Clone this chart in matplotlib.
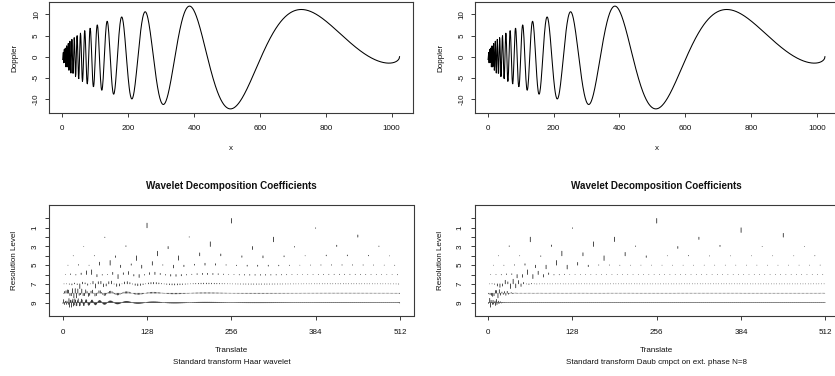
import numpy as np
import matplotlib
matplotlib.use("Agg")
import matplotlib.pyplot as plt
from matplotlib.collections import LineCollection
from math import comb

plt.rcParams['font.family'] = ['Liberation Sans', 'DejaVu Sans']

# ------------------------------------------------------------------ data
n_points = 1024            # length of the Doppler test signal
doppler_freq = 0.96        # oscillation constant (read from the peak positions)
doppler_eps = 0.05         # shift constant of the Doppler chirp
doppler_sd = 7.0           # signal scaled to this standard deviation
top_xticks = [0, 200, 400, 600, 800, 1000]
top_yticks = [-10, -5, 0, 5, 10]
bottom_xticks = [0, 128, 256, 384, 512]
level_heights = [1, 2, 3, 4, 5, 6, 7, 8, 9, 10]
level_labels = ['9', '', '7', '', '5', '', '3', '', '1', '']
panel_filter_numbers = [1, 8]
panel_subtitles = ["Standard transform Haar wavelet",
                   "Standard transform Daub cmpct on ext. phase N=8"]
top_ylabel = "Doppler"
top_xlabel = "x"
bottom_title = "Wavelet Decomposition Coefficients"
bottom_xlabel = "Translate"
bottom_ylabel = "Resolution Level"

# ------------------------------------------------------------------ signal
x_index = np.arange(1, n_points + 1)
tt = x_index / n_points
signal = np.sqrt(tt * (1 - tt)) * np.sin(2 * np.pi * doppler_freq / (tt + doppler_eps))
signal = signal / np.std(signal, ddof=1) * doppler_sd


def daub_ext_phase(N):
    if N == 1:
        return np.array([1.0, 1.0]) / np.sqrt(2)
    P = [comb(N - 1 + k, k) for k in range(N)]
    yroots = np.roots(P[::-1])
    zr = []
    for yr in yroots:
        r = np.roots([1, -(2 - 4 * yr), 1])
        zr.append(r[np.argmin(np.abs(r))])
    zeros = np.concatenate([-np.ones(N), np.array(zr)])
    h = np.real(np.poly(zeros))
    return h / h.sum() * np.sqrt(2)


def dwt_periodic(data, h):
    L = len(h)
    m_ = np.arange(L)
    g = np.array([(-1) ** (k + 1) * h[k] for k in range(L)])
    c = data.astype(float).copy()
    out = {}
    J = int(round(np.log2(len(c))))
    for j in range(J - 1, -1, -1):
        m = len(c)
        kk = 2 * np.arange(m // 2)[:, None]
        cidx = (kk + m_[None, :]) % m
        didx = (kk + 1 - m_[None, :]) % m
        d = (c[didx] * g).sum(1)
        c = (c[cidx] * h).sum(1)
        out[j] = d
    return out


# ------------------------------------------------------------------ figure
W, H = 835, 376
fig = plt.figure(figsize=(W / 100, H / 100), dpi=100)
FS = 5.8
TFS = 7.1
TXT = '#111111'


def px_axes(x0, y0, x1, y1):
    return fig.add_axes([x0 / W, 1 - y1 / H, (x1 - x0) / W, (y1 - y0) / H])


def ftext(xp, yp, s, **kw):
    fig.text(xp / W, 1 - yp / H, s, ha='center', va='center', color=TXT, **kw)


def style(ax):
    for s in ax.spines.values():
        s.set_linewidth(0.8)
        s.set_color('#3a3a3a')
    ax.tick_params(length=3.2, width=0.7, color='#3a3a3a',
                   labelbottom=False, labelleft=False)


def tick_labels(box, xlim, ylim, xt, xl, yt, yl, xlab_y, ylab_x):
    x0, y0, x1, y1 = box
    for v, s in zip(xt, xl):
        xp = x0 + (v - xlim[0]) / (xlim[1] - xlim[0]) * (x1 - x0)
        ftext(xp, xlab_y, s, fontsize=FS)
    for v, s in zip(yt, yl):
        if s:
            yp = y1 - (v - ylim[0]) / (ylim[1] - ylim[0]) * (y1 - y0)
            ftext(ylab_x, yp, s, fontsize=FS, rotation=90)


shift = 425.4
for p in range(2):
    dx = p * shift
    # ---- top: the signal
    box = (49.2 + dx, 2.0, 413.0 + dx, 113.0)
    ax = px_axes(*box)
    ax.plot(x_index, signal, color='black', lw=0.75)
    xr = x_index.max() - x_index.min()
    xlim = (x_index.min() - 0.04 * xr, x_index.max() + 0.04 * xr)
    yr = signal.max() - signal.min()
    ylim = (signal.min() - 0.04 * yr, signal.max() + 0.04 * yr)
    ax.set_xlim(*xlim)
    ax.set_ylim(*ylim)
    ax.set_xticks(top_xticks)
    ax.set_yticks(top_yticks)
    style(ax)
    tick_labels(box, xlim, ylim, top_xticks, [str(v) for v in top_xticks],
                top_yticks, [str(v) for v in top_yticks], 128.6, 36.5 + dx)
    ftext((box[0] + box[2]) / 2, 148.5, top_xlabel, fontsize=FS)
    ftext(15 + dx, (box[1] + box[3]) / 2, top_ylabel, fontsize=FS, rotation=90)

    # ---- bottom: wavelet coefficients
    box = (49.2 + dx, 205.0, 413.5 + dx, 316.0)
    ax = px_axes(*box)
    coeffs = dwt_periodic(signal, daub_ext_phase(panel_filter_numbers[p]))
    nlev = len(coeffs)
    half = n_points // 2
    segs = []
    for j in range(nlev):
        d = coeffs[j]
        mx = np.max(np.abs(d))
        yv = 0.5 * d / mx if mx > 0 else np.zeros_like(d)
        base = nlev - j
        xs = (np.arange(len(d)) + 0.5) * half / len(d)
        for xx, vv in zip(xs, yv):
            if abs(vv) < 0.005:
                vv = 0.005 if vv >= 0 else -0.005
            segs.append([(xx, base), (xx, base + vv)])
    lc = LineCollection(segs, colors='black', linewidths=0.5, capstyle='round',
                        snap=False)
    ax.add_collection(lc)
    xlim = (-0.04 * half, half * 1.04)
    ylim = (-0.04 * (nlev + 1), (nlev + 1) * 1.04)
    ax.set_xlim(*xlim)
    ax.set_ylim(*ylim)
    ax.set_xticks(bottom_xticks)
    ax.set_yticks(level_heights)
    style(ax)
    tick_labels(box, xlim, ylim, bottom_xticks, [str(v) for v in bottom_xticks],
                level_heights, level_labels, 332.3, 35.0 + dx)
    cx = (box[0] + box[2]) / 2
    ftext(cx, 185.7, bottom_title, fontsize=TFS, fontweight='bold')
    ftext(cx, 351.0, bottom_xlabel, fontsize=FS)
    ftext(cx, 362.5, panel_subtitles[p], fontsize=FS)
    ftext(15 + dx, (box[1] + box[3]) / 2, bottom_ylabel, fontsize=FS, rotation=90)

fig.savefig("out.png", dpi=100)
